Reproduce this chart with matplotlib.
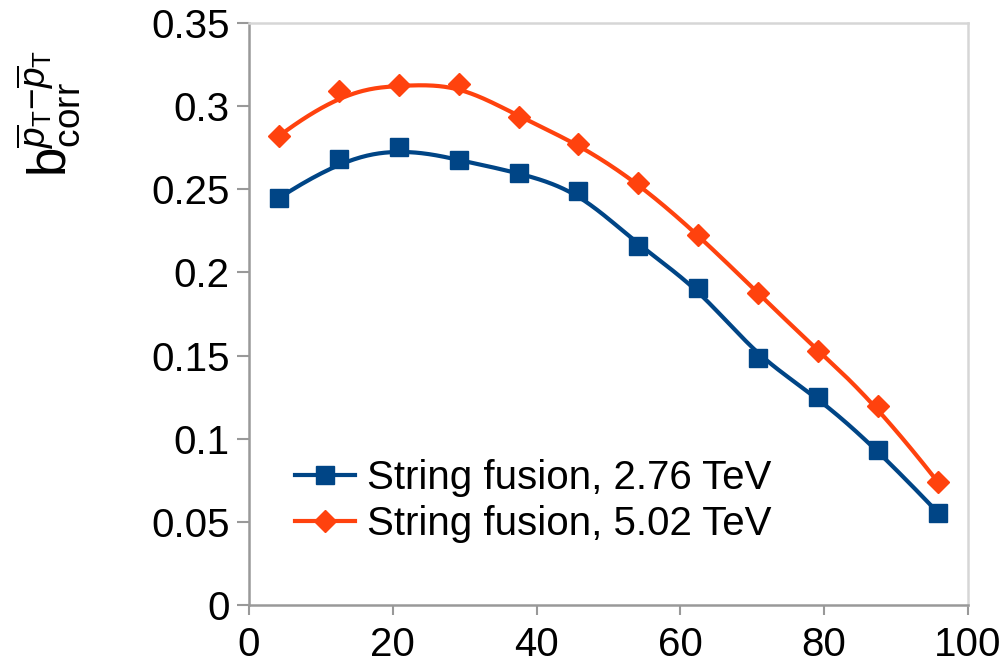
import numpy as np
import matplotlib
matplotlib.use("Agg")
import matplotlib.pyplot as plt

plt.rcParams["font.family"] = ["Liberation Sans", "DejaVu Sans"]
plt.rcParams["mathtext.fontset"] = "custom"
plt.rcParams["mathtext.rm"] = "Liberation Sans"
plt.rcParams["mathtext.it"] = "Liberation Sans:italic"

# centrality bins (%)
centrality = [4.17, 12.5, 20.83, 29.17, 37.5, 45.83, 54.17, 62.5, 70.83, 79.17, 87.5, 95.83]
b_276 = [0.2447, 0.2680, 0.2756, 0.2676, 0.2600, 0.2491, 0.2159, 0.1908, 0.1483, 0.1253, 0.0932, 0.0555]
b_502 = [0.2820, 0.3090, 0.3127, 0.3133, 0.2937, 0.2772, 0.2536, 0.2225, 0.1874, 0.1527, 0.1197, 0.0738]
labels = ["String fusion, 2.76 TeV", "String fusion, 5.02 TeV"]
colors = ["#004586", "#ff420e"]


def bspline(xs, ys, degree=3, n=400):
    # clamped uniform B-spline with the data points as control points
    pts = np.column_stack([xs, ys])
    m = len(pts)
    knots = np.concatenate([np.zeros(degree), np.linspace(0, 1, m - degree + 1), np.ones(degree)])
    out = []
    for t in np.linspace(0, 1, n):
        if t >= 1.0:
            out.append(pts[-1])
            continue
        k = np.searchsorted(knots, t, side="right") - 1
        d = [pts[j + k - degree].copy() for j in range(degree + 1)]
        for r in range(1, degree + 1):
            for j in range(degree, r - 1, -1):
                i = j + k - degree
                a = (t - knots[i]) / (knots[i + 1 + degree - r] - knots[i])
                d[j] = (1 - a) * d[j - 1] + a * d[j]
        out.append(d[degree])
    out = np.array(out)
    return out[:, 0], out[:, 1]


fig = plt.figure(figsize=(10.06, 6.67), dpi=100)
ax = fig.add_axes([0.2475, 0.093, 0.7147, 0.8725])

for ys, lab, col, mk, ms in [(b_276, labels[0], colors[0], "s", 13), (b_502, labels[1], colors[1], "D", 11)]:
    cx, cy = bspline(centrality, ys)
    ax.plot(cx, cy, color=col, lw=3)
    ax.plot(centrality, ys, linestyle="none", marker=mk, ms=ms, color=col)
    ax.plot([], [], color=col, lw=3, marker=mk, ms=ms, label=lab)

ax.set_xlim(0, 100)
ax.set_ylim(0, 0.35)
ax.set_xticks([0, 20, 40, 60, 80, 100])
ax.set_yticks([0, 0.05, 0.1, 0.15, 0.2, 0.25, 0.3, 0.35])
ax.set_yticklabels(["0", "0.05", "0.1", "0.15", "0.2", "0.25", "0.3", "0.35"])
ax.tick_params(axis="both", labelsize=29, colors="#999999", labelcolor="black", width=1.5)
ax.tick_params(axis="y", length=9, pad=5)
ax.tick_params(axis="x", length=7, pad=8)

for side in ["left", "bottom"]:
    ax.spines[side].set_color("#999999")
    ax.spines[side].set_linewidth(1.8)
for side in ["top", "right"]:
    ax.spines[side].set_color("#d6d6d6")
    ax.spines[side].set_linewidth(1.8)

ax.set_ylabel(r"$\mathrm{b}_{\mathrm{corr}}^{\overline{p}_{\mathrm{T}}\mathrm{-}\overline{p}_{\mathrm{T}}}$",
              fontsize=38)
ax.yaxis.set_label_coords(-0.232, 0.845)

ax.legend(loc="upper left", bbox_to_anchor=(0.064, 0.25), frameon=False, fontsize=29,
          numpoints=1, handlelength=1.5, handletextpad=0.28, labelspacing=0.18,
          borderaxespad=0, borderpad=0)

fig.savefig("out.png", dpi=100)
